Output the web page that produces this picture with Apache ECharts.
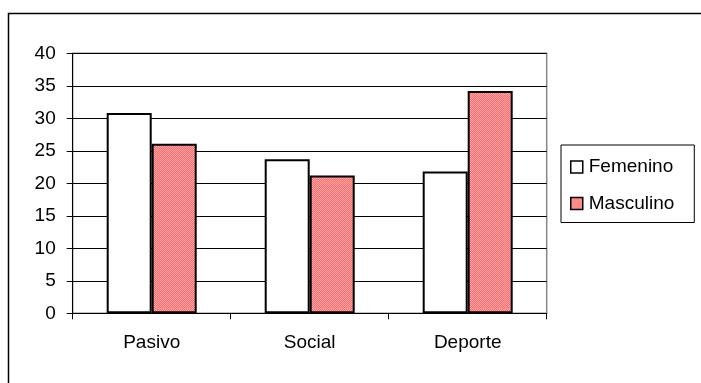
<!DOCTYPE html>
<html>
<head>
<meta charset="utf-8">
<script src="https://cdn.jsdelivr.net/npm/echarts@6/dist/echarts.min.js"></script>
<style>html,body{margin:0;padding:0;background:#fff}#c{width:701px;height:383px}</style>
</head>
<body>
<div id="c"></div>
<script>
const categories = ['Pasivo', 'Social', 'Deporte'];
const femenino = [30.8, 23.7, 21.8];
const masculino = [26.1, 21.2, 34.2];
const seriesNames = ['Femenino', 'Masculino'];

function makePattern() {
  const c = document.createElement('canvas');
  c.width = 2; c.height = 2;
  const ctx = c.getContext('2d');
  ctx.fillStyle = '#ff6e6e'; ctx.fillRect(0, 0, 2, 2);
  ctx.fillStyle = '#ffa4a4'; ctx.fillRect(0, 0, 1, 1); ctx.fillRect(1, 1, 1, 1);
  return c;
}
const pattern = { image: makePattern(), repeat: 'repeat' };

const chart = echarts.init(document.getElementById('c'), null, { renderer: 'canvas' });
const font = 'Liberation Sans, Arial, sans-serif';
chart.setOption({
  animation: false,
  backgroundColor: '#fff',
  textStyle: { fontFamily: font },
  graphic: [
    { type: 'rect', z: -10, shape: { x: 8.5, y: 13.5, width: 800, height: 500 }, style: { fill: 'none', stroke: '#000', lineWidth: 1.5 } },
    { type: 'rect', z: -5, shape: { x: 72.7, y: 53.3, width: 474, height: 260 }, style: { fill: 'none', stroke: '#888', lineWidth: 1.5 } }
  ],
  grid: { left: 72.7, top: 53.3, right: 154.3, bottom: 69.7, containLabel: false },
  legend: {
    orient: 'vertical',
    left: 561, top: 145,
    padding: [11, 20, 8, 9],
    itemGap: 14.5,
    itemWidth: 12, itemHeight: 12,
    icon: 'rect',
    borderColor: '#000', borderWidth: 1,
    backgroundColor: '#fff',
    textStyle: { fontFamily: font, fontSize: 19, lineHeight: 22, color: '#000', padding: [0, 0, 0, 1] },
    data: seriesNames,
    itemStyle: { borderColor: '#000', borderWidth: 1.5 }
  },
  xAxis: {
    type: 'category',
    data: categories,
    axisLine: { lineStyle: { color: '#000', width: 1 } },
    axisTick: { show: true, length: 6, lineStyle: { color: '#000' } },
    axisLabel: { fontFamily: font, fontSize: 19, color: '#000', margin: 20 },
    splitLine: { show: false }
  },
  yAxis: {
    type: 'value',
    min: 0, max: 40, interval: 5,
    axisLine: { show: true, lineStyle: { color: '#000', width: 1 } },
    axisTick: { show: true, length: 6, lineStyle: { color: '#000' } },
    axisLabel: { fontFamily: font, fontSize: 19, color: '#000', margin: 17 },
    splitLine: { show: true, lineStyle: { color: '#000', width: 1 } }
  },
  series: [
    {
      name: seriesNames[0], type: 'bar', data: femenino,
      barWidth: 45, barGap: '0%',
      itemStyle: { color: '#fff', borderColor: '#000', borderWidth: 2 }
    },
    {
      name: seriesNames[1], type: 'bar', data: masculino,
      barWidth: 45, barGap: '0%',
      itemStyle: { color: pattern, borderColor: '#000', borderWidth: 2 }
    }
  ]
});
</script>
</body>
</html>
